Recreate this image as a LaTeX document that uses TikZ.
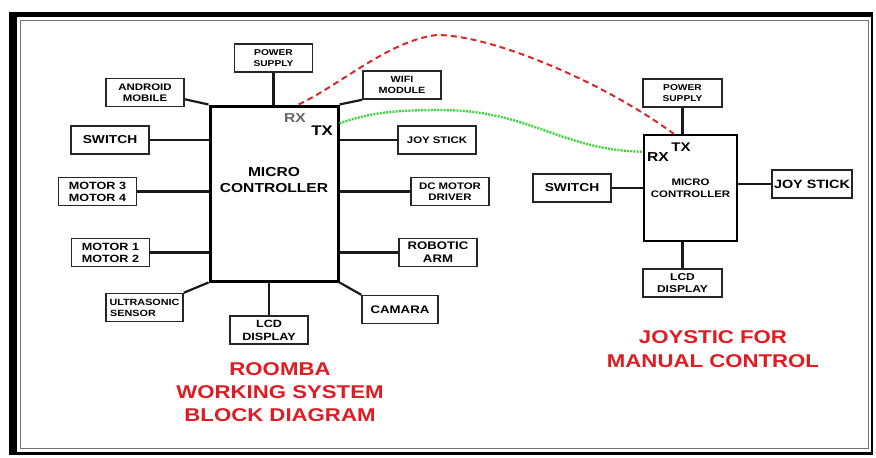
\documentclass[tikz,border=0pt]{standalone}
\usepackage{fontspec}
\setmainfont{Liberation Sans}[FakeStretch=1.2]
\usetikzlibrary{positioning, calc}
\definecolor{LinkRed}{HTML}{D42A2A}
\definecolor{LinkGreen}{HTML}{3AD83A}
\definecolor{TitleRed}{HTML}{E01B22}
\newcommand{\fsz}[2]{\fontsize{#1}{#2}\selectfont\bfseries}

\begin{document}
\begin{tikzpicture}[x=1pt, y=-1pt,
  blk/.style={draw=black!85, line width=1.5pt, fill=white, align=center, inner sep=1pt, minimum width=78pt, minimum height=28pt},
  mcu/.style={draw=black, line width=3pt, fill=white, align=center, inner sep=0pt},
  wire/.style={line width=2.2pt, black!90},
  pin/.style={font=\fsz{13}{13}, inner sep=0pt}]
  \useasboundingbox (0,0) rectangle (876,458);
  % Frame
  \fill[black] (9,12) rectangle (873,455);
  \fill[white] (17,17) rectangle (871,452);
  \draw[black!55, line width=0.8pt] (20,20) rectangle (868,448);

  % Roomba controller
  \node[mcu, minimum width=128pt, minimum height=175pt] (mcL) at (274,193.5) {};
  \node[font=\fsz{13}{16}, align=center] (mcLtxt) at (274,180) {MICRO\\CONTROLLER};
  \node[pin, text=black!60] (rxL) at (295,118) {RX};
  \node[pin, font=\fsz{14}{14}] (txL) at (322,131) {TX};
  % Left side blocks
  \node[blk, font=\fsz{8.5}{10.5}] (psL) at (273.5,58) {POWER\\SUPPLY};
  \node[blk, font=\fsz{9.5}{11}] (andr) at (145,92.5) {ANDROID\\MOBILE};
  \node[blk, font=\fsz{9}{11}] (wifi) at (402,85) {WIFI\\MODULE};
  \node[blk, font=\fsz{11.5}{12}] (swL) at (110,140) {SWITCH};
  \node[blk, font=\fsz{10.5}{12}] (m34) at (97.5,191.5) {MOTOR 3\\MOTOR 4};
  \node[blk, font=\fsz{10.5}{12}] (m12) at (110.5,252.5) {MOTOR 1\\MOTOR 2};
  \node[blk, font=\fsz{9}{11}, minimum width=77pt] (us) at (144.5,307.5) {ULTRASONIC\\SENSOR\hspace*{23pt}};
  \node[blk, font=\fsz{10.5}{13}] (lcdL) at (269,330) {LCD\\DISPLAY};
  \node[blk, font=\fsz{11}{12}, minimum width=76pt] (cam) at (400,309.5) {CAMARA};
  \node[blk, font=\fsz{9.5}{11}] (joyL) at (437,140) {JOY STICK};
  \node[blk, font=\fsz{9.5}{11}] (dcm) at (450,191.5) {DC MOTOR\\DRIVER};
  \node[blk, font=\fsz{11}{13}] (arm) at (438,252.5) {ROBOTIC\\ARM};
  % Links to roomba controller
  \draw[wire] (psL.south) -- (psL.south |- mcL.north);
  \draw[wire] (lcdL.north) -- (lcdL.north |- mcL.south);
  \draw[wire] ($(andr.south east)+(0,-8)$) -- (mcL.north west);
  \draw[wire] (mcL.north east) -- (wifi.south west);
  \draw[wire] (us.north east) -- (mcL.south west);
  \draw[wire] (mcL.south east) -- (cam.north west);
  \foreach \b in {swL, m34, m12}
    \draw[wire] (\b.east) -- (\b.east -| mcL.west);
  \foreach \b in {joyL, dcm, arm}
    \draw[wire] (\b.west) -- (\b.west -| mcL.east);

  % Joystick controller
  \node[mcu, line width=2.5pt, minimum width=93pt, minimum height=106pt, font=\fsz{9.5}{12.5}] (mcR) at (690.5,188) {MICRO\\CONTROLLER};
  \node[pin, font=\fsz{13}{13}] (rxR) at (658,157) {RX};
  \node[pin, font=\fsz{12.5}{12.5}] (txR) at (681,147) {TX};
  \node[blk, font=\fsz{8.5}{10.5}, minimum width=79pt] (psR) at (682.5,93) {POWER\\SUPPLY};
  \node[blk, font=\fsz{11.5}{12}] (swR) at (572,188) {SWITCH};
  \node[blk, font=\fsz{12}{12}, minimum width=80pt] (joyR) at (812,184) {JOY STICK};
  \node[blk, font=\fsz{10}{12}, minimum width=79pt] (lcdR) at (682.5,283) {LCD\\DISPLAY};
  \draw[wire] (psR.south) -- (psR.south |- mcR.north);
  \draw[wire] (lcdR.north) -- (lcdR.north |- mcR.south);
  \draw[wire] (swR.east) -- (swR.east -| mcR.west);
  \draw[wire] (joyR.west) -- (joyR.west -| mcR.east);

  % Serial links
  \coordinate (rxA) at ($(mcL.north west)+(90,0)$);
  \coordinate (txA) at ($(mcL.north east)+(0,19)$);
  \coordinate (txB) at ($(mcR.north west)+(31,0)$);
  \coordinate (rxB) at ($(mcR.north west)+(0,18)$);
  \draw[LinkRed, line width=2pt, dash pattern=on 6pt off 4pt]
    (rxA) .. controls (340,85) and (390,40) .. (437,35) .. controls (490,35) and (600,80) .. (txB);
  \draw[LinkGreen, line width=2.4pt, dash pattern=on 2pt off 1.2pt]
    (txA) .. controls (370,112) and (400,110) .. (440,110) .. controls (530,110) and (560,150) .. (rxB);

  % Titles
  \node[font=\fsz{18.5}{23}, text=TitleRed, align=center] (ttlL) at (280,392) {ROOMBA\\WORKING SYSTEM\\BLOCK DIAGRAM};
  \node[font=\fsz{18.5}{24}, text=TitleRed, align=center] (ttlR) at (713,349) {JOYSTIC FOR\\MANUAL CONTROL};
\end{tikzpicture}
\end{document}
